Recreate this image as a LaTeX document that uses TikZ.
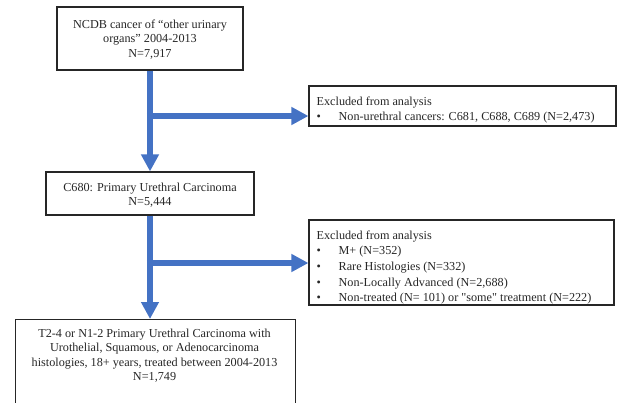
\documentclass[tikz,border=0pt]{standalone}
\usepackage{fontspec}
\setmainfont{Liberation Serif}[Ligatures=TeXOff]
\usetikzlibrary{arrows.meta}
\definecolor{flowblue}{HTML}{4472C4}
\definecolor{inkgray}{HTML}{262626}
\begin{document}
\begin{tikzpicture}[x=1pt,y=-1pt,
  frame/.style={draw=inkgray, line width=1.1pt, inner sep=0pt},
  ctext/.style={text=inkgray, inner sep=0pt, align=center, font=\fontsize{12.2}{14.2}\selectfont},
  ltext/.style={text=inkgray, inner sep=0pt, align=left, anchor=west, font=\fontsize{12.2}{15.7}\selectfont},
  flow/.style={draw=flowblue, line width=6.5pt, -{Triangle[width=17pt,length=17pt]}},
  trunk/.style={draw=flowblue, line width=6.5pt}]
\useasboundingbox (0,0) rectangle (621,402);

\node[frame, minimum width=186pt, minimum height=63pt] (b1) at (150,38.5) {};
\node[ctext] (b1t) at ([yshift=-1pt]b1.center)
  {NCDB cancer of “other urinary\\organs” 2004-2013\\N=7,917};
\node[frame, minimum width=307pt, minimum height=40pt] (b2) at (462.5,106) {};
\node[ltext] (b2t) at ([xshift=8pt,yshift=-4pt]b2.west)
  {Excluded from analysis\\\makebox[22pt][l]{•}Non-urethral cancers: C681, C688, C689 (N=2,473)};
\node[frame, minimum width=208pt, minimum height=43pt] (b3) at (150,193.5) {};
\node[ctext] (b3t) at ([yshift=-2pt]b3.center)
  {C680: Primary Urethral Carcinoma\\N=5,444};
\node[frame, minimum width=305pt, minimum height=85pt] (b4) at (461.5,262.5) {};
\node[ltext] (b4t) at ([xshift=8pt,yshift=-5pt]b4.west)
  {Excluded from analysis\\
   \makebox[22pt][l]{•}M+ (N=352)\\
   \makebox[22pt][l]{•}Rare Histologies (N=332)\\
   \makebox[22pt][l]{•}Non-Locally Advanced (N=2,688)\\
   \makebox[22pt][l]{•}Non-treated (N= 101) or "some" treatment (N=222)};
\node[frame, minimum width=280pt, minimum height=120pt, anchor=north west] (b5) at (15,319) {};
\node[ctext, anchor=north] (b5t) at ([xshift=-1pt,yshift=-10pt]b5.north)
  {T2-4 or N1-2 Primary Urethral Carcinoma with\\Urothelial, Squamous, or Adenocarcinoma\\histologies, 18+ years, treated between 2004-2013\\N=1,749};

\coordinate (j1) at (150,116);
\coordinate (j2) at (150,263);
\draw[trunk] (b1.south) -- (j1);
\draw[flow] (j1) -- (b3.north);
\draw[flow] ([xshift=-3.25pt]j1) -- (j1 -| b2.west);
\draw[trunk] (b3.south) -- (j2);
\draw[flow] (j2) -- (j2 |- b5.north);
\draw[flow] ([xshift=-3.25pt]j2) -- (j2 -| b4.west);
\end{tikzpicture}
\end{document}
